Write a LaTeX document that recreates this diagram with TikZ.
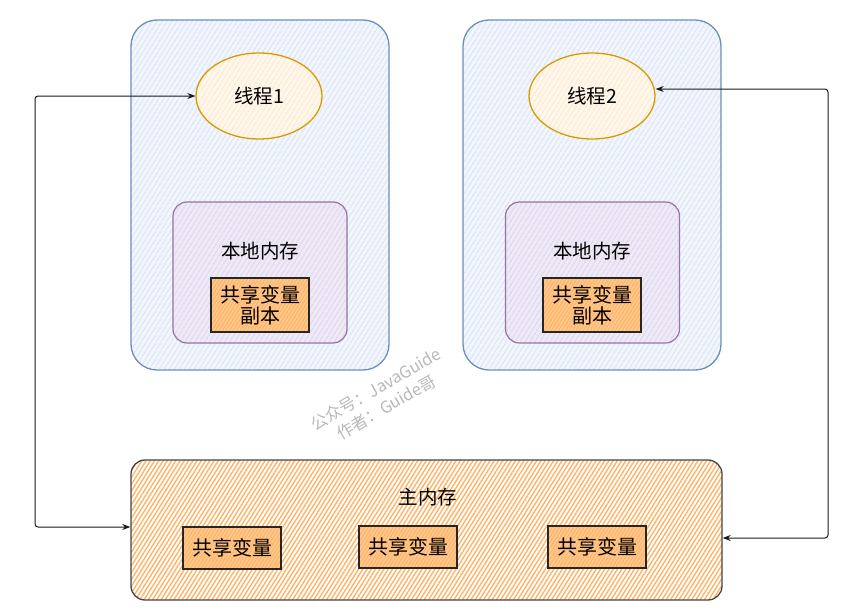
\documentclass[tikz,border=0pt]{standalone}
\usepackage{fontspec}
\setmainfont{Noto Sans CJK SC}
\usetikzlibrary{shapes.geometric,patterns.meta,arrows.meta}
\definecolor{blueline}{HTML}{6C8EBF}
\definecolor{bluehatch}{HTML}{B9CEF0}
\definecolor{bluebase}{HTML}{F3F7FD}
\definecolor{ellline}{HTML}{D79B00}
\definecolor{ellhatch}{HTML}{FAD7A8}
\definecolor{ellbase}{HTML}{FFF7EC}
\definecolor{purline}{HTML}{9673A6}
\definecolor{purhatch}{HTML}{D2C0DD}
\definecolor{purbase}{HTML}{EEE9F6}
\definecolor{orhatch}{HTML}{FFB366}
\definecolor{orbase}{HTML}{FFC88C}
\definecolor{mainline}{HTML}{444444}
\begin{document}
\begin{tikzpicture}[x=1pt,y=-1pt,
  hatch/.style 2 args={preaction={fill=#2},pattern={Lines[angle=58,distance=4pt,line width=0.7pt]},pattern color=#1},
  outerbox/.style={draw=blueline,line width=1.3pt,rounded corners=26pt,minimum width=258pt,minimum height=350pt,hatch={bluehatch}{bluebase}},
  threadell/.style={ellipse,draw=ellline,line width=1.3pt,minimum width=126pt,minimum height=86pt,hatch={ellhatch}{ellbase},font=\fontsize{19.5}{22}\selectfont},
  localbox/.style={draw=purline,line width=1.2pt,rounded corners=14pt,minimum width=174pt,minimum height=141pt,hatch={purhatch}{purbase}},
  varbox/.style={draw=black!85,line width=1.2pt,minimum width=98pt,minimum height=42pt,inner sep=1pt,align=center,preaction={fill=orbase},pattern={Lines[angle=58,distance=3pt,line width=1pt]},pattern color=orhatch,font=\fontsize{20}{21}\selectfont},
  mainbox/.style={draw=mainline,line width=1.3pt,rounded corners=14pt,minimum width=591pt,minimum height=140pt,preaction={fill=white},pattern={Lines[angle=58,distance=3.6pt,line width=1.4pt]},pattern color=orhatch},
  lbl/.style={font=\fontsize{19.5}{22}\selectfont,inner sep=0pt},
  conn/.style={{Stealth[length=8pt,width=6pt]}-{Stealth[length=8pt,width=6pt]},line width=1pt,black!90,rounded corners=3pt}
]
\useasboundingbox (0,0) rectangle (856,613);

% thread containers
\node[outerbox] (box1) at (260,195) {};
\node[outerbox] (box2) at (592,195) {};

% threads
\node[threadell] (th1) at (259,96) {线程1};
\node[threadell] (th2) at (592,96) {线程2};

% local memories
\node[localbox] (lm1) at (260,272.5) {};
\node[localbox] (lm2) at (592.5,272.5) {};
\node[lbl] (lm1t) at (260,251) {本地内存};
\node[lbl] (lm2t) at (592,251) {本地内存};
\node[varbox,minimum height=54pt] (cp1) at (260,305) {共享变量\\副本};
\node[varbox,minimum height=54pt] (cp2) at (592,305) {共享变量\\副本};

% main memory
\node[mainbox] (mm) at (426.5,530) {};
\node[lbl] (mmt) at (428,497) {主内存};
\node[varbox] (v1) at (232,548) {共享变量};
\node[varbox] (v2) at (408,547) {共享变量};
\node[varbox] (v3) at (597,547) {共享变量};

% connectors
\coordinate (l1) at (35,96);
\coordinate (l2) at (35,527);
\coordinate (r1) at (828,89);
\coordinate (r2) at (828,538);
\draw[conn] (th1.west) -- (l1) -- (l2) -- (mm.west |- l2);
\draw[conn] (th2.east |- r1) -- (r1) -- (r2) -- (mm.east |- r2);

% watermark
\node[rotate=30,text=black!28,align=center,font=\fontsize{16.5}{21}\selectfont] (wm) at (381,398) {公众号：JavaGuide\\作者：Guide哥};
\end{tikzpicture}
\end{document}
